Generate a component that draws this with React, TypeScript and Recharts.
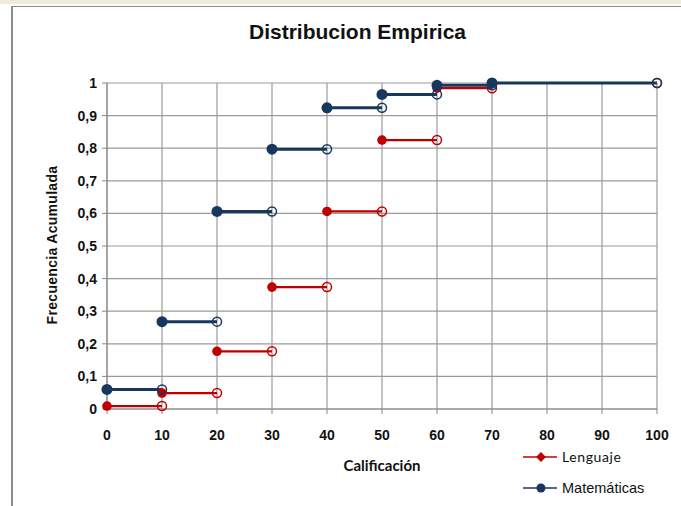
import React from "react"
import { ComposedChart, Line, XAxis, YAxis, CartesianGrid } from "recharts"

// Step edges (Calificación) and cumulative frequencies per step
const breaks = [0, 10, 20, 30, 40, 50, 60, 70, 100]
const matematicas = [0.06, 0.268, 0.606, 0.797, 0.924, 0.965, 0.993, 1.0]
const lenguaje = [0.009, 0.049, 0.177, 0.374, 0.606, 0.825, 0.984, 1.0]

const xTicks = [0, 10, 20, 30, 40, 50, 60, 70, 80, 90, 100]
const yTicks = [0, 0.1, 0.2, 0.3, 0.4, 0.5, 0.6, 0.7, 0.8, 0.9, 1]

const BLUE = "#17375E"
const RED = "#C00000"
const GRID = "#9a9a9a"

// each step -> filled start point, open end point, then a gap
const toSteps = (values: number[]) =>
  values.flatMap((v, i) => [
    { x: breaks[i], y: v, k: "f" },
    { x: breaks[i + 1], y: v, k: "o" },
    { x: breaks[i + 1], y: null, k: "gap" },
  ])

const matData = toSteps(matematicas)
const lenData = toSteps(lenguaje)

const stepDot = (color: string, r: number) => (props: any) => {
  const { cx, cy, payload, index } = props
  if (payload.y == null || cx == null || cy == null) return <g key={index} />
  if (payload.k === "f") return <circle key={index} cx={cx} cy={cy} r={r} fill={color} />
  return <circle key={index} cx={cx} cy={cy} r={4.5} fill="none" stroke={color} strokeWidth={1.5} />
}

const tickFont = { fontFamily: "Liberation Sans, Arial, sans-serif", fontSize: 14, fontWeight: 700, fill: "#111" }

export default function App() {
  return (
    <div style={{ position: "fixed", left: 0, top: 0, width: 681, height: 506, background: "#fff", overflow: "hidden" }}>
      <div style={{ position: "absolute", left: 0, top: 0, width: 681, height: 4, background: "#eeebdc" }} />
      <div style={{ position: "absolute", left: 12, top: 6, width: 669, height: 1, background: "#8c8c8c" }} />
      <div style={{ position: "absolute", left: 11, top: 6, width: 2, height: 500, background: "#8c8c8c" }} />

      <div
        style={{
          position: "absolute",
          left: 0,
          top: 20,
          width: 715,
          textAlign: "center",
          fontFamily: "Liberation Sans, Arial, sans-serif",
          fontWeight: 700,
          fontSize: 21,
          color: "#111",
        }}
      >
        Distribucion Empirica
      </div>

      <div style={{ position: "absolute", left: 0, top: 0 }}>
        <ComposedChart width={681} height={506} margin={{ top: 83, right: 24, left: 47, bottom: 57 }}>
          <CartesianGrid stroke={GRID} strokeWidth={1.2} vertical horizontal />
          <XAxis
            type="number"
            dataKey="x"
            domain={[0, 100]}
            ticks={xTicks}
            interval={0}
            height={40}
            stroke="#888"
            tickSize={5}
            tickMargin={16}
            tick={tickFont}
            allowDuplicatedCategory
          />
          <YAxis
            type="number"
            dataKey="y"
            domain={[0, 1]}
            ticks={yTicks}
            interval={0}
            width={60}
            stroke="#888"
            tickSize={5}
            tickMargin={5}
            tick={tickFont}
            tickFormatter={(v: number) => String(Number(v.toFixed(1))).replace(".", ",")}
          />
          <Line
            data={lenData}
            dataKey="y"
            stroke={RED}
            strokeWidth={2.2}
            dot={stepDot(RED, 4.8)}
            activeDot={false}
            isAnimationActive={false}
            connectNulls={false}
          />
          <Line
            data={matData}
            dataKey="y"
            stroke={BLUE}
            strokeWidth={3}
            dot={stepDot(BLUE, 5.5)}
            activeDot={false}
            isAnimationActive={false}
            connectNulls={false}
          />
        </ComposedChart>
      </div>

      <svg style={{ position: "absolute", left: 0, top: 0 }} width={681} height={506}>
        <text
          x={57}
          y={245}
          transform="rotate(-90 57 245)"
          textAnchor="middle"
          fontFamily="Liberation Sans, Arial, sans-serif"
          fontWeight={700}
          fontSize={14}
          fill="#111"
          letterSpacing={0.3}
        >
          Frecuencia Acumulada
        </text>
        <text x={382} y={471} textAnchor="middle" fontFamily="Lato, sans-serif" fontWeight={700} fontSize={15} fill="#111">
          Calificación
        </text>

        <line x1={523} y1={457} x2={557} y2={457} stroke={RED} strokeWidth={1.5} />
        <rect x={537.5} y={453.5} width={7} height={7} fill={RED} transform="rotate(45 541 457)" />
        <text x={562} y={462} fontFamily="Lato, sans-serif" fontSize={14} fill="#111" letterSpacing={0.6}>
          Lenguaje
        </text>

        <line x1={523} y1={488} x2={557} y2={488} stroke={BLUE} strokeWidth={1.5} />
        <circle cx={541} cy={488} r={4.5} fill={BLUE} />
        <text x={562} y={493} fontFamily="Liberation Sans, Arial, sans-serif" fontSize={14.5} fill="#111">
          Matemáticas
        </text>
      </svg>
    </div>
  )
}
